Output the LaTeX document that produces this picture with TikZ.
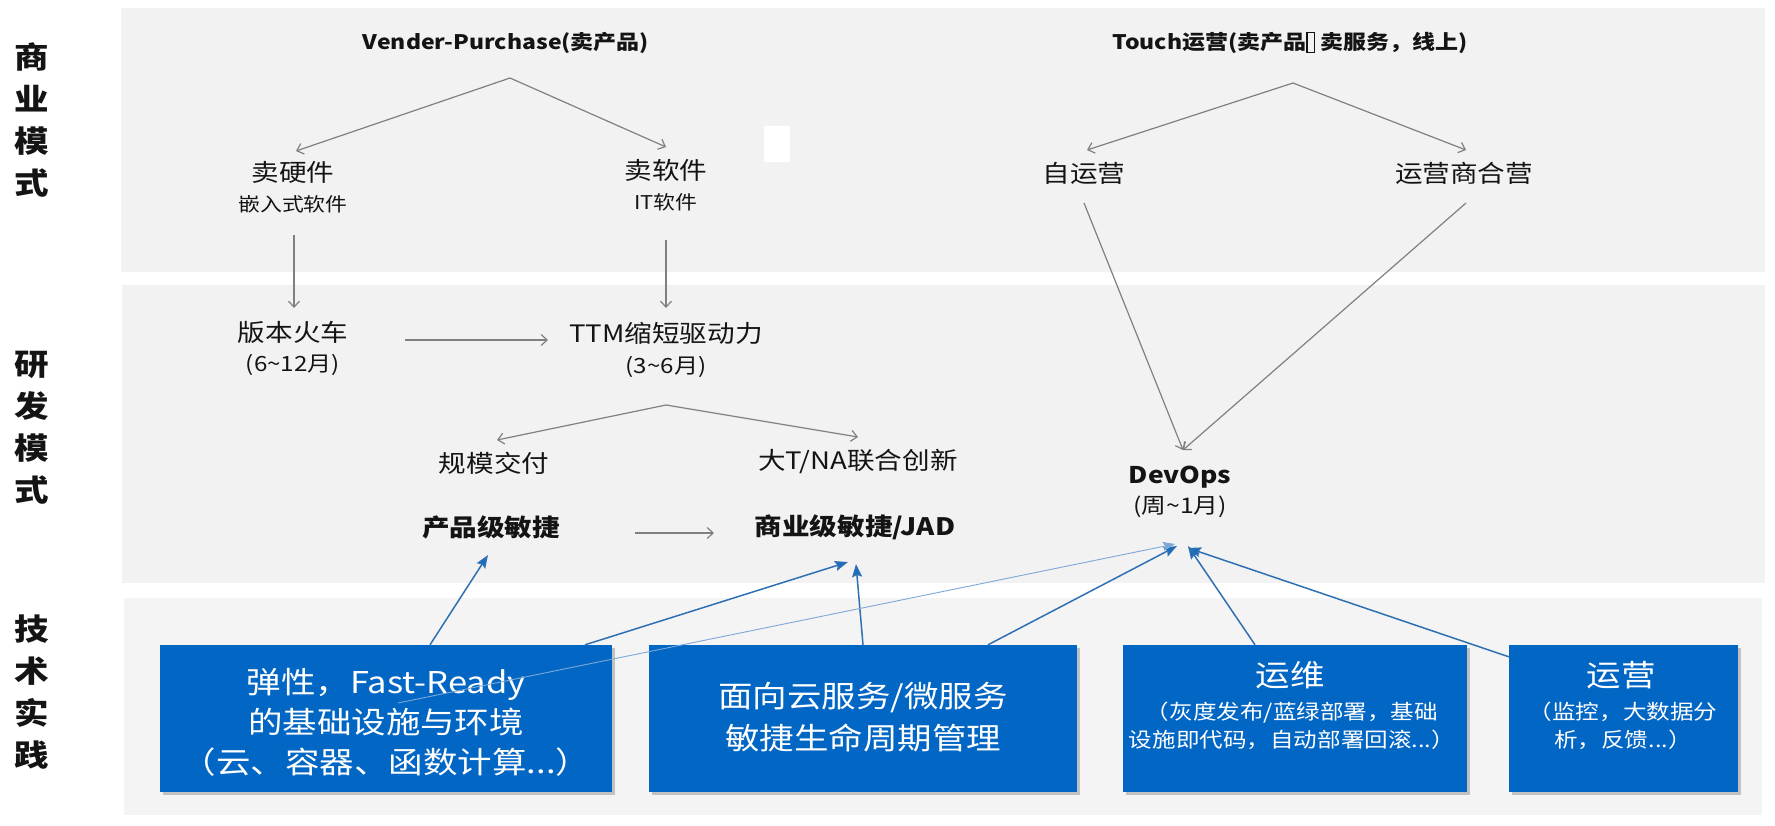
\documentclass[tikz,border=0pt]{standalone}
\usepackage{fontspec}
\setmainfont{Noto Sans CJK SC}[FakeStretch=1.15]
\usetikzlibrary{arrows.meta,shadows}
\definecolor{bandc}{RGB}{242,242,242}
\definecolor{bandd}{RGB}{244,244,244}
\definecolor{boxblue}{RGB}{2,102,196}
\definecolor{lineblue}{RGB}{46,112,178}
\definecolor{headblue}{RGB}{20,108,196}
\definecolor{lightblue}{RGB}{125,168,215}
\definecolor{garrowc}{RGB}{128,128,128}
\definecolor{txt}{RGB}{20,20,20}
\newcommand\tofubox{\raisebox{-0.12em}{\setlength{\fboxsep}{0pt}\setlength{\fboxrule}{0.06em}\fbox{\rule{0pt}{0.95em}\hspace{0.32em}}}}
\newcommand\fsz[2]{\fontsize{#1}{#2}\selectfont}
\begin{document}
\begin{tikzpicture}[x=1pt,y=-1pt,
  lbl/.style={inner sep=0pt, text=txt, align=center},
  side/.style={lbl, font=\bfseries\fsz{30}{42}},
  titlelbl/.style={lbl, font=\bfseries\fsz{20}{24}},
  mainlbl/.style={lbl, font=\fsz{24}{28}},
  sublbl/.style={lbl, font=\fsz{19}{23}},
  parlbl/.style={lbl, font=\fsz{21}{25}},
  boldlbl/.style={lbl, font=\bfseries\fsz{24}{28}},
  bluebox/.style={fill=boxblue, draw=none, inner sep=0pt,
    drop shadow={shadow xshift=3pt, shadow yshift=-3pt, opacity=0.3, fill=black!70}},
  boxtxt/.style={inner sep=0pt, text=white, align=center, font=\fsz{30}{40}},
  boxsub/.style={inner sep=0pt, text=white, align=center, font=\fsz{20.5}{28}},
  garrow/.style={draw=garrowc, line width=1.2pt, -{Straight Barb[length=6pt,width=11pt]}},
  barrow/.style={draw=lineblue, line width=1.5pt, -{Stealth[length=13pt,width=10pt,inset=2pt,fill=headblue]}},
  larrow/.style={draw=lightblue, line width=0.9pt, -{Stealth[length=12pt,width=9pt,inset=2pt]}}
]
\useasboundingbox (0,0) rectangle (1775,825);
\fill[white] (0,0) rectangle (1775,825);
% bands
\fill[bandc] (121,8) rectangle (1765,272);
\fill[bandc] (122,285) rectangle (1765,583);
\fill[bandd] (124,598) rectangle (1762,815);
\fill[white] (764,126) rectangle (790,162);

% side labels
\node[side] (l1) at (32,120) {商\\业\\模\\式};
\node[side] (l2) at (32,428) {研\\发\\模\\式};
\node[side] (l3) at (32,692) {技\\术\\实\\践};

% business model
\node[titlelbl] (vp) at (506,43) {Vender-Purchase(卖产品)};
\node[titlelbl] (touch) at (1290,43) {Touch运营(卖产品\tofubox{} 卖服务，线上)};
\node[mainlbl] (hw) at (293,172) {卖硬件};
\node[sublbl] (hwsub) at (293,204) {嵌入式软件};
\node[mainlbl] (sw) at (666,170) {卖软件};
\node[sublbl] (swsub) at (666,202) {IT软件};
\node[mainlbl] (self) at (1084,173) {自运营};
\node[mainlbl] (carrier) at (1464,173) {运营商合营};

% R&D model
\node[mainlbl] (train) at (293,332) {版本火车};
\node[parlbl] (trainsub) at (293,365) {(6\textasciitilde12月)};
\node[mainlbl] (ttm) at (666,333) {TTM缩短驱动力};
\node[parlbl] (ttmsub) at (666,367) {(3\textasciitilde6月)};
\node[mainlbl] (scale) at (494,463) {规模交付};
\node[mainlbl] (bigt) at (858,462) {大T/NA联合创新};
\node[boldlbl] (pagile) at (491,527) {产品级敏捷};
\node[boldlbl] (bagile) at (855,527) {商业级敏捷/JAD};
\node[lbl, font=\bfseries\fsz{23}{27}] (devops) at (1180,477) {DevOps};
\node[parlbl, font=\fsz{21.5}{25}] (devsub) at (1180,507) {(周\textasciitilde1月)};

% gray arrows
\draw[garrow] ([xshift=4pt,yshift=-35pt]vp.center) -- ([xshift=3pt,yshift=21pt]hw.center);
\draw[garrow] ([xshift=4pt,yshift=-35pt]vp.center) -- ([yshift=23pt]sw.center);
\draw[garrow] ([xshift=3pt,yshift=-40pt]touch.center) -- ([xshift=3pt,yshift=23pt]self.center);
\draw[garrow] ([xshift=3pt,yshift=-40pt]touch.center) -- ([xshift=2pt,yshift=23pt]carrier.center);
\draw[garrow] ([xshift=1pt,yshift=-31pt]hwsub.center) -- ([xshift=1pt,yshift=24pt]train.center);
\draw[garrow] ([yshift=-38pt]swsub.center) -- ([yshift=25pt]ttm.center);
\draw[garrow] ([xshift=112pt,yshift=-8pt]train.center) -- ([xshift=-118pt,yshift=-7pt]ttm.center);
\draw[garrow] ([yshift=-38pt]ttmsub.center) -- ([xshift=3pt,yshift=23pt]scale.center);
\draw[garrow] ([yshift=-38pt]ttmsub.center) -- ([yshift=25pt]bigt.center);
\draw[garrow] ([xshift=144pt,yshift=-6pt]pagile.center) -- ([xshift=-141pt,yshift=-6pt]bagile.center);
\draw[garrow] ([yshift=-30pt]self.center) -- ([xshift=3pt,yshift=27pt]devops.center);
\draw[garrow] ([xshift=2pt,yshift=-30pt]carrier.center) -- ([xshift=3pt,yshift=27pt]devops.center);

% blue boxes
\node[bluebox, minimum width=452pt, minimum height=147pt] (b1) at (386,718.5) {};
\node[bluebox, minimum width=428pt, minimum height=147pt] (b2) at (863,718.5) {};
\node[bluebox, minimum width=344pt, minimum height=147pt] (b3) at (1295,718.5) {};
\node[bluebox, minimum width=229pt, minimum height=147pt] (b4) at (1623.5,718.5) {};

\node[boxtxt] (t1) at (386,722) {弹性，Fast-Ready\\的基础设施与环境\\（云、容器、函数计算...）};
\node[boxtxt, font=\fsz{30}{42}] (t2) at (863,717) {面向云服务/微服务\\敏捷生命周期管理};
\node[boxtxt] (t3a) at (1290,675) {运维};
\node[boxsub] (t3b) at (1292,726) {（灰度发布/蓝绿部署，基础\\设施即代码，自动部署回滚...）};
\node[boxtxt] (t4a) at (1621,675) {运营};
\node[boxsub] (t4b) at (1623,726) {（监控，大数据分\\析，反馈...）};

% blue arrows
\draw[barrow] ([xshift=44pt]b1.north) -- ([xshift=-3pt,yshift=-28pt]pagile.center);
\draw[barrow] ([xshift=199pt]b1.north) -- ([xshift=-7pt,yshift=-35pt]bagile.center);
\draw[barrow] (b2.north) -- ([xshift=1pt,yshift=-37pt]bagile.center);
\draw[barrow] ([xshift=125pt]b2.north) -- ([xshift=-3pt,yshift=-39pt]devsub.center);
\draw[larrow] ([xshift=12pt,yshift=15.5pt]b1.center) -- ([xshift=-5pt,yshift=-37pt]devsub.center);
\draw[barrow] ([xshift=-40pt]b3.north) -- ([xshift=8pt,yshift=-39pt]devsub.center);
\draw[barrow] ([yshift=-12pt]b4.north west) -- ([xshift=8pt,yshift=-41pt]devsub.center);
\end{tikzpicture}
\end{document}
